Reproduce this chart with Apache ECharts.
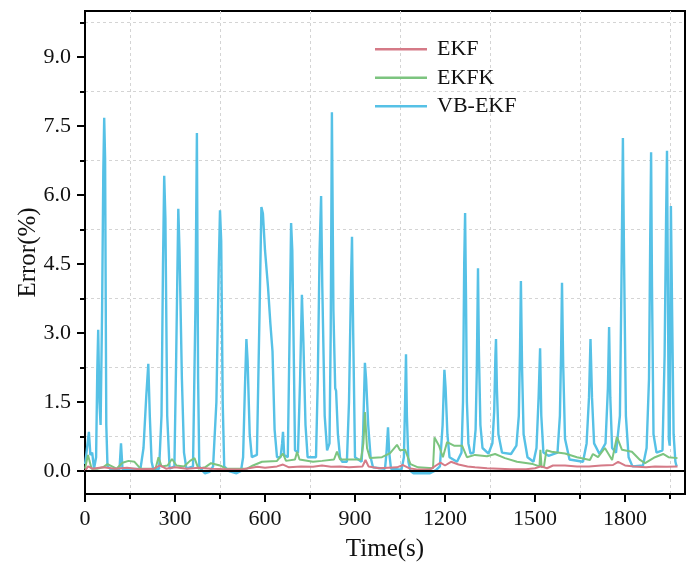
<!DOCTYPE html>
<html><head><meta charset="utf-8">
<script src="https://cdn.jsdelivr.net/npm/echarts@6/dist/echarts.min.js"></script>
<style>html,body{margin:0;padding:0;background:#fff}#c{width:688px;height:564px}</style>
</head><body><div id="c"></div>
<script>
const seriesNames = ['EKF', 'EKFK', 'VB-EKF'];

const ekfTime = [0,10,25,60,100,140,180,230,250,270,300,340,380,420,470,520,545,575,600,640,660,680,720,760,790,820,850,880,925,935,945,980,1010,1040,1060,1080,1110,1150,1170,1185,1200,1220,1245,1275,1300,1340,1380,1420,1470,1500,1520,1540,1560,1600,1640,1680,1720,1760,1777,1800,1830,1870,1900,1940,1975];
const ekfError = [0.0,0.1,0.05,0.08,0.05,0.07,0.04,0.05,0.12,0.05,0.08,0.05,0.07,0.05,0.04,0.03,0.06,0.09,0.07,0.1,0.14,0.08,0.1,0.09,0.12,0.09,0.1,0.08,0.1,0.24,0.1,0.06,0.07,0.08,0.13,0.06,0.03,0.03,0.12,0.18,0.12,0.2,0.14,0.1,0.08,0.06,0.05,0.04,0.04,0.06,0.1,0.06,0.12,0.12,0.1,0.1,0.12,0.13,0.2,0.12,0.1,0.08,0.1,0.09,0.1];

const ekfkTime = [0,5,10,15,22,40,60,75,90,105,125,145,165,185,235,245,255,275,290,305,330,350,365,378,400,420,450,470,540,560,590,640,660,670,700,707,715,760,790,830,840,850,920,928,933,940,950,990,1017,1040,1050,1067,1085,1110,1160,1165,1180,1193,1207,1230,1257,1273,1300,1340,1367,1400,1440,1493,1515,1518,1522,1530,1538,1555,1600,1640,1683,1693,1710,1733,1757,1773,1790,1823,1850,1867,1900,1927,1945,1975];
const ekfkError = [0.05,0.2,0.35,0.22,0.05,0.05,0.08,0.15,0.1,0.05,0.18,0.22,0.2,0.05,0.05,0.3,0.1,0.12,0.26,0.12,0.1,0.22,0.28,0.05,0.08,0.17,0.12,0.05,0.05,0.12,0.2,0.22,0.38,0.22,0.25,0.42,0.25,0.2,0.22,0.25,0.42,0.25,0.25,0.6,1.28,0.5,0.28,0.3,0.39,0.57,0.45,0.46,0.15,0.08,0.06,0.73,0.55,0.3,0.63,0.55,0.55,0.3,0.35,0.32,0.37,0.28,0.2,0.15,0.1,0.46,0.08,0.1,0.45,0.42,0.38,0.3,0.24,0.37,0.3,0.5,0.24,0.74,0.46,0.42,0.24,0.17,0.3,0.37,0.3,0.28];

const vbTime = [0,5,13,18,24,30,37,41,44,48,52,57,61,64,67,71,75,85,115,120,125,185,195,204,211,216,222,228,247,255,260,264,268,274,282,298,304,311,315,323,330,338,360,368,373,377,381,392,400,415,427,438,446,450,454,459,464,480,505,520,527,533,538,542,549,556,573,582,588,593,600,610,618,625,632,640,652,657,660,664,676,682,687,691,696,700,710,717,723,728,735,742,770,776,782,787,791,799,807,815,819,823,828,834,837,843,850,857,873,880,887,890,894,900,922,927,933,937,944,952,960,1000,1005,1010,1014,1020,1055,1063,1067,1070,1073,1078,1085,1095,1150,1170,1183,1192,1198,1202,1208,1215,1240,1255,1260,1264,1267,1270,1273,1278,1285,1295,1302,1306,1310,1313,1318,1325,1345,1358,1364,1368,1370,1373,1378,1390,1420,1438,1446,1450,1453,1457,1462,1475,1495,1505,1512,1517,1521,1528,1545,1575,1583,1587,1590,1594,1600,1615,1660,1672,1680,1685,1690,1697,1715,1735,1743,1747,1751,1757,1770,1783,1788,1793,1797,1803,1812,1825,1860,1872,1880,1884,1887,1890,1895,1905,1925,1932,1937,1940,1943,1946,1949,1951,1953,1957,1962,1968,1972];
const vbError = [0.15,0.4,0.85,0.35,0.4,0.05,0.3,2.2,3.07,1.5,1.0,3.5,6.5,7.68,6.8,1.0,0.1,0.04,0.04,0.6,0.04,0.05,0.5,1.6,2.33,1.2,0.2,0.03,0.05,1.2,4.5,6.42,5.5,1.2,0.05,0.1,2.5,5.7,4.8,2.0,0.4,0.05,0.1,3.5,7.35,2.0,0.1,0.0,-0.05,-0.02,0.1,1.5,4.5,5.67,5.0,1.5,0.1,0.0,-0.05,0.0,0.3,1.8,2.87,2.4,0.8,0.3,0.35,3.5,5.74,5.6,4.8,4.0,3.2,2.6,0.9,0.3,0.3,0.6,0.85,0.35,0.3,3.0,5.39,4.8,2.5,0.45,0.4,2.0,3.83,2.8,1.0,0.3,0.3,2.0,4.8,5.98,4.0,1.2,0.45,0.6,3.0,7.8,3.5,1.8,1.74,0.8,0.3,0.2,0.2,1.5,4.2,5.09,3.0,0.3,0.2,0.8,2.35,2.0,1.0,0.3,0.08,0.05,0.4,0.95,0.4,0.05,0.03,0.3,1.5,2.54,1.2,0.2,0.0,-0.05,-0.05,0.02,0.1,1.0,2.2,1.8,0.8,0.3,0.2,0.4,1.5,4.5,5.61,3.8,1.5,0.6,0.38,0.4,0.9,2.2,4.41,2.6,1.0,0.5,0.38,0.6,1.3,2.5,2.87,1.8,0.8,0.4,0.37,0.55,1.2,2.6,4.13,2.2,0.8,0.3,0.2,0.5,1.6,2.67,1.2,0.4,0.33,0.4,1.2,2.6,4.09,2.3,0.7,0.25,0.2,0.6,1.6,2.87,1.6,0.6,0.37,0.6,1.8,3.13,1.6,0.5,0.4,1.2,4.0,7.24,4.5,1.2,0.3,0.1,0.12,0.5,2.0,5.0,6.93,4.0,0.8,0.4,0.45,2.5,5.5,6.96,4.0,0.7,0.55,3.0,5.76,3.5,0.8,0.2,0.1];

const xTicks = [0, 300, 600, 900, 1200, 1500, 1800];
const xMinorTicks = [150, 450, 750, 1050, 1350, 1650, 1950];
const yTicks = [0, 1.5, 3.0, 4.5, 6.0, 7.5, 9.0];
const yMinorTicks = [0.75, 2.25, 3.75, 5.25, 6.75, 8.25, 9.75];

const colors = ['#d57a87', '#7cc47f', '#56c1e6'];
const FONT = '"Liberation Serif","Times New Roman",serif';
const GRID_COLOR = '#d4d4d4';

function pairs(t, v) { return t.map((x, i) => [x, v[i]]); }
function off() { return {show: false}; }

const chart = echarts.init(document.getElementById('c'), null, {renderer: 'canvas'});

const option = {
  animation: false,
  backgroundColor: '#fff',
  grid: {left: 85, right: 3, top: 11, bottom: 70, show: true, borderColor: '#000', borderWidth: 2,
         backgroundColor: 'transparent', outerBoundsMode: 'none', containLabel: false},
  legend: {
    data: seriesNames,
    orient: 'vertical',
    left: 370, top: 30,
    itemWidth: 52, itemHeight: 2.5, itemGap: 0,
    icon: 'rect',
    textStyle: {fontFamily: FONT, fontSize: 22, color: '#111', lineHeight: 28.5, padding: [0, 0, 0, 5]}
  },
  xAxis: [{
    type: 'value', min: 0, max: 2000,
    name: 'Time(s)', nameLocation: 'middle', nameGap: 43, nameMoveOverlap: false,
    nameTextStyle: {fontFamily: FONT, fontSize: 25, color: '#111'},
    axisLine: {show: true, onZero: false, lineStyle: {color: '#000', width: 2}},
    axisTick: {show: true, customValues: xTicks, length: 8, lineStyle: {color: '#000', width: 2}},
    axisLabel: {customValues: xTicks, fontFamily: FONT, fontSize: 22, color: '#111', margin: 14, formatter: v => String(v)},
    splitLine: off(), minorSplitLine: off(), minorTick: off()
  }, {
    type: 'value', min: 0, max: 2000, position: 'bottom',
    axisLine: {show: false, onZero: false},
    axisTick: {show: true, customValues: xMinorTicks, length: 5, lineStyle: {color: '#000', width: 2}},
    axisLabel: {show: false},
    splitLine: {show: true, lineStyle: {color: GRID_COLOR, type: [3, 3], width: 1}},
    minorSplitLine: off(), minorTick: off()
  }],
  yAxis: [{
    type: 'value', min: -0.5, max: 10,
    name: 'Error(%)', nameLocation: 'middle', nameGap: 44, nameMoveOverlap: false,
    nameTextStyle: {fontFamily: FONT, fontSize: 25, color: '#111'},
    axisLine: {show: true, onZero: false, lineStyle: {color: '#000', width: 2}},
    axisTick: {show: true, customValues: yTicks, length: 8, lineStyle: {color: '#000', width: 2}},
    axisLabel: {customValues: yTicks, fontFamily: FONT, fontSize: 22, color: '#111', margin: 14, formatter: v => v.toFixed(1)},
    splitLine: off(), minorSplitLine: off(), minorTick: off()
  }, {
    type: 'value', min: -0.5, max: 10, position: 'left',
    axisLine: {show: false, onZero: false},
    axisTick: {show: true, customValues: yMinorTicks, length: 5, lineStyle: {color: '#000', width: 2}},
    axisLabel: {show: false},
    splitLine: {show: true, lineStyle: {color: GRID_COLOR, type: [3, 3], width: 1}},
    minorSplitLine: off(), minorTick: off()
  }],
  series: [
    {
      name: 'VB-EKF', type: 'line', data: pairs(vbTime, vbError), showSymbol: false, symbol: 'none',
      lineStyle: {color: colors[2], width: 2.4}, itemStyle: {color: colors[2]}, z: 2
    },
    {
      name: 'EKFK', type: 'line', data: pairs(ekfkTime, ekfkError), showSymbol: false, symbol: 'none',
      lineStyle: {color: colors[1], width: 2}, itemStyle: {color: colors[1]}, z: 3
    },
    {
      name: 'EKF', type: 'line', data: pairs(ekfTime, ekfError), showSymbol: false, symbol: 'none',
      lineStyle: {color: colors[0], width: 2}, itemStyle: {color: colors[0]}, z: 4
    },
    {
      name: 'zero', type: 'line', data: [], silent: true, z: 5,
      markLine: {
        silent: true, symbol: ['none', 'none'], label: {show: false}, animation: false,
        lineStyle: {color: '#000', type: 'solid', width: 2},
        data: [{yAxis: 0}]
      }
    }
  ]
};
chart.setOption(option);
</script>
</body></html>
